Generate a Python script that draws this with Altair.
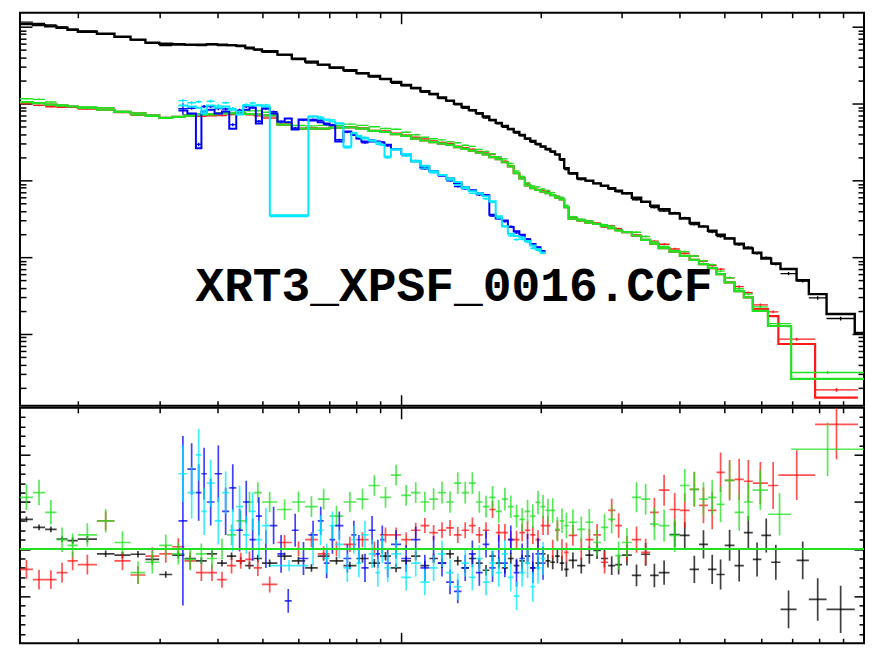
import math
import altair as alt
import pandas as pd

# ---------------- data (energies in keV) ----------------
BLACK_EDGES = [0.15, 0.16, 0.17, 0.18, 0.19, 0.20, 0.22, 0.24, 0.26, 0.28, 0.30, 0.32, 0.34, 0.36, 0.38,
               0.40, 0.42, 0.44, 0.46, 0.48, 0.50, 0.54, 0.58, 0.62, 0.66, 0.70, 0.75, 0.80, 0.85, 0.90,
               0.95, 1.00, 1.05, 1.10, 1.15, 1.20, 1.25, 1.30, 1.35, 1.40, 1.45, 1.50, 1.55, 1.60, 1.65,
               1.70, 1.75, 1.80, 1.85, 1.90, 1.95, 2.00, 2.05, 2.10, 2.15, 2.20, 2.25, 2.30, 2.40, 2.50,
               2.60, 2.70, 2.80, 2.90, 3.00, 3.15, 3.30, 3.45, 3.60, 3.80, 4.00, 4.20, 4.40, 4.60, 4.80,
               5.00, 5.25, 5.50, 5.75, 6.00, 6.30, 6.60, 7.15, 7.60, 8.30, 9.55, 10.0]
BLACK_MODEL = [10.8, 10.5, 10.1, 9.70, 9.14, 8.61, 8.11, 7.41, 6.78, 6.20,
               6.01, 5.90, 5.84, 5.84, 5.90, 5.84, 5.75, 5.66, 5.34, 5.06,
               4.80, 4.33, 3.84, 3.51, 3.21, 2.94, 2.72, 2.49, 2.28, 2.09,
               1.91, 1.74, 1.59, 1.45, 1.33, 1.20, 1.09, 0.99, 0.90, 0.82,
               0.75, 0.678, 0.61, 0.56, 0.51, 0.466, 0.426, 0.389, 0.35, 0.325,
               0.298, 0.276, 0.256, 0.238, 0.218, 0.188, 0.144, 0.124, 0.106, 0.099,
               0.0914, 0.085, 0.079, 0.0733, 0.0680, 0.0593, 0.0526, 0.0467, 0.0420, 0.0368,
               0.0318, 0.0278, 0.0250, 0.0221, 0.0196, 0.0175, 0.0150, 0.0130, 0.0114, 0.0096,
               0.0083, 0.0070, 0.0050, 0.0033, 0.00182, 0.00103]
BLACK_RATIO = [1.063, 1.046, 1.042, 1.021, 1.018, 1.021, 0.990, 0.987, 0.989, 0.978,
               0.946, 0.987, 0.980, 0.975, 0.990, 0.970, 0.985, 0.975, 0.965, 0.980,
               0.970, 0.985, 0.975, 0.960, 0.985, 0.975, 0.965, 0.980, 0.970, 0.985,
               0.960, 0.975, 0.985, 0.965, 0.980, 0.970, 0.990, 0.975, 0.960, 0.980,
               0.970, 0.955, 0.985, 0.970, 0.960, 0.980, 0.965, 0.975, 0.985, 0.960,
               0.970, 0.990, 0.975, 0.972, 0.985, 0.970, 0.957, 0.976, 0.965, 0.987,
               0.997, 0.980, 0.965, 0.967, 0.987, 0.944, 0.989, 0.944, 0.950, 1.031,
               1.029, 0.957, 1.010, 0.957, 0.946, 1.008, 0.965, 1.035, 0.978, 1.029,
               0.972, 0.872, 0.976, 0.893, 0.872, None]
BLACK_ERR = [0.006, 0.006, 0.006, 0.006, 0.007, 0.007, 0.007, 0.007, 0.007, 0.007,
             0.007, 0.007, 0.007, 0.007, 0.007, 0.007, 0.008, 0.008, 0.008, 0.008,
             0.008, 0.008, 0.008, 0.008, 0.008, 0.008, 0.008, 0.009, 0.009, 0.009,
             0.009, 0.009, 0.009, 0.010, 0.010, 0.010, 0.010, 0.010, 0.010, 0.011,
             0.011, 0.011, 0.011, 0.012, 0.012, 0.012, 0.012, 0.013, 0.013, 0.013,
             0.013, 0.014, 0.014, 0.015, 0.015, 0.016, 0.016, 0.017, 0.017, 0.018,
             0.018, 0.019, 0.020, 0.021, 0.022, 0.023, 0.024, 0.025, 0.026, 0.027,
             0.028, 0.029, 0.030, 0.031, 0.032, 0.033, 0.034, 0.035, 0.036, 0.036,
             0.037, 0.040, 0.040, 0.045, 0.050, 0.050]

RG_MODEL = [1.04, 1.01, 0.97, 0.94, 0.914, 0.875, 0.83, 0.78, 0.743, 0.70,
            0.65, 0.67, 0.70, 0.72, 0.73, 0.743, 0.743, 0.743, 0.73, 0.72,
            0.70, 0.53, 0.47, 0.47, 0.47, 0.485, 0.49, 0.47, 0.44, 0.426,
            0.40, 0.38, 0.35, 0.33, 0.315, 0.30, 0.29, 0.27, 0.256, 0.243,
            0.23, 0.218, 0.20, 0.188, 0.172, 0.152, 0.124, 0.106, 0.086, 0.079,
            0.0748, 0.071, 0.068, 0.064, 0.0597, 0.0565, 0.0447, 0.0318, 0.030, 0.0282,
            0.027, 0.0253, 0.0238, 0.0224, 0.0211, 0.019, 0.0168, 0.0150, 0.0131, 0.0118,
            0.0104, 0.0092, 0.0081, 0.0072, 0.0060, 0.0047, 0.0036, 0.0030]

RED_EDGES = BLACK_EDGES[:79] + [6.20, 6.53, 7.84, 9.70]
RED_MODEL = RG_MODEL + [0.0021, 0.00171, 0.00074, 0.000148]
RED_RATIO = [0.957, 0.935, 0.935, 0.950, 0.975, 0.967, 1.060, 0.975, 0.945, 0.985,
             0.990, 1.005, 0.975, 0.950, 0.950, 0.935, 0.965, 0.975, 0.978, 0.960,
             0.925, 1.014, 1.000, 1.020, 0.990, 1.000, 1.010, 1.020, 1.000, 1.030,
             1.030, 1.020, 1.040, 1.050, 1.035, 1.040, 1.045, 1.030, 1.040, 1.050,
             1.030, 1.040, 1.084, 1.035, 1.035, 1.020, 1.020, 1.035, 1.040, 1.030,
             1.020, 1.050, 1.050, 1.000, 1.040, 1.000, 0.993, 1.029, 1.000, 1.020,
             1.030, 0.972, 1.082, 1.050, 1.000, 1.020, 0.993, 1.078, 1.125, 1.084,
             1.082, 1.127, 1.093, 1.082, 1.163, 1.146, 1.148, 1.144, 1.140, 1.135,
             1.157, 1.265]
RED_ERR = [0.020, 0.021, 0.020, 0.021, 0.020, 0.021, 0.020, 0.020, 0.019, 0.019,
           0.019, 0.018, 0.018, 0.018, 0.018, 0.017, 0.017, 0.017, 0.017, 0.017,
           0.017, 0.016, 0.016, 0.016, 0.016, 0.016, 0.016, 0.016, 0.016, 0.016,
           0.016, 0.016, 0.016, 0.016, 0.016, 0.017, 0.017, 0.017, 0.017, 0.017,
           0.017, 0.017, 0.018, 0.018, 0.018, 0.018, 0.019, 0.019, 0.019, 0.019,
           0.020, 0.020, 0.020, 0.020, 0.021, 0.021, 0.021, 0.022, 0.022, 0.022,
           0.023, 0.024, 0.025, 0.026, 0.027, 0.028, 0.029, 0.031, 0.033, 0.035,
           0.036, 0.037, 0.038, 0.040, 0.042, 0.043, 0.044, 0.045, 0.045, 0.050,
           0.053, 0.074]

GREEN_EDGES = BLACK_EDGES[:79] + [6.20, 6.96, 10.0]
GREEN_MODEL = RG_MODEL + [0.0020, 0.00127, 0.00026]
GREEN_RATIO = [1.110, 1.120, 1.078, 1.020, 1.008, 1.030, 1.060, 1.014, 0.950, 0.972,
               1.008, 0.990, 0.978, 0.990, 0.980, 1.000, 1.030, 1.060, 1.100, 1.120,
               1.100, 1.084, 1.100, 1.090, 1.106, 1.070, 1.100, 1.106, 1.135, 1.110,
               1.157, 1.114, 1.120, 1.100, 1.106, 1.120, 1.100, 1.140, 1.120, 1.140,
               1.100, 1.090, 1.110, 1.080, 1.106, 1.090, 1.070, 1.063, 1.080, 1.070,
               1.099, 1.090, 1.082, 1.082, 1.042, 1.060, 1.050, 1.057, 1.042, 1.057,
               1.014, 1.046, 1.063, 0.986, 1.014, 1.110, 1.106, 1.053, 1.050, 1.029,
               1.135, 1.127, 1.106, 1.110, 1.095, 1.146, 1.078, 1.100, 1.125, 1.074,
               1.212]
GREEN_ERR = [0.027, 0.027, 0.026, 0.026, 0.025, 0.025, 0.025, 0.024, 0.024, 0.024,
             0.023, 0.023, 0.023, 0.022, 0.022, 0.022, 0.022, 0.022, 0.022, 0.022,
             0.022, 0.022, 0.022, 0.022, 0.022, 0.022, 0.022, 0.022, 0.022, 0.022,
             0.022, 0.022, 0.022, 0.022, 0.023, 0.023, 0.023, 0.023, 0.023, 0.023,
             0.023, 0.023, 0.024, 0.024, 0.024, 0.024, 0.024, 0.024, 0.025, 0.025,
             0.025, 0.025, 0.025, 0.026, 0.026, 0.026, 0.027, 0.027, 0.027, 0.028,
             0.028, 0.029, 0.030, 0.030, 0.031, 0.032, 0.033, 0.034, 0.034, 0.035,
             0.035, 0.036, 0.036, 0.037, 0.038, 0.038, 0.039, 0.040, 0.042, 0.045,
             0.057]

BLUE_EDGES = [0.33, 0.345, 0.36, 0.37, 0.38, 0.395, 0.41, 0.425, 0.44, 0.455, 0.47, 0.485, 0.50,
              0.52, 0.54, 0.56, 0.58, 0.60, 0.63, 0.66, 0.68, 0.70, 0.72, 0.75, 0.78, 0.80, 0.82,
              0.85, 0.88, 0.90, 0.92, 0.95, 1.00, 1.05, 1.10, 1.15, 1.20, 1.25, 1.30, 1.35, 1.40,
              1.45, 1.50, 1.55, 1.60, 1.65, 1.70, 1.75, 1.80, 1.85, 1.90, 1.95, 2.00, 2.05]
BLUE_MODEL = [0.81, 0.743, 0.262, 0.787, 0.83, 0.743, 0.787, 0.47, 0.787, 0.83,
              0.88, 0.55, 0.86, 0.743, 0.584, 0.64, 0.46, 0.62, 0.60, 0.57,
              0.55, 0.52, 0.321, 0.433, 0.39, 0.35, 0.321, 0.321, 0.321, 0.31,
              0.29, 0.253, 0.22, 0.1765, 0.147, 0.131, 0.117, 0.106, 0.0914, 0.081,
              0.0742, 0.068, 0.064, 0.0357, 0.0318, 0.030, 0.0246, 0.0218, 0.0195, 0.0171,
              0.0148, 0.0135, 0.0120]
BLUE_RATIO = [1.06, 1.17, 1.12, 1.16, 1.10, 1.16, 1.08, 1.13, 1.04, 1.10,
              1.02, 1.07, 1.00, 1.05, 0.99, 0.89, 1.04, 0.98, 1.03, 1.06,
              0.97, 1.02, 1.05, 0.98, 1.03, 1.00, 0.96, 1.04, 0.99, 1.02,
              0.97, 1.01, 0.98, 1.02, 0.96, 1.00, 0.97, 0.93, 0.91, 0.96,
              0.99, 0.95, 1.01, 0.96, 1.00, 0.97, 1.02, 0.95, 0.98, 1.00,
              0.96, 0.99, 0.97]
BLUE_ERR = [0.180, 0.055, 0.060, 0.055, 0.050, 0.060, 0.050, 0.050, 0.045, 0.045,
            0.045, 0.040, 0.040, 0.040, 0.040, 0.025, 0.035, 0.035, 0.030, 0.030,
            0.032, 0.030, 0.030, 0.030, 0.030, 0.030, 0.030, 0.030, 0.030, 0.030,
            0.030, 0.030, 0.028, 0.028, 0.028, 0.028, 0.028, 0.026, 0.025, 0.028,
            0.028, 0.028, 0.028, 0.030, 0.030, 0.030, 0.030, 0.030, 0.032, 0.032,
            0.032, 0.033, 0.035]

CYAN_EDGES = [0.33, 0.345, 0.36, 0.37, 0.38, 0.395, 0.41, 0.425, 0.44, 0.455, 0.47, 0.485, 0.50,
              0.52, 0.63, 0.66, 0.68, 0.70, 0.72, 0.75, 0.78, 0.80, 0.82, 0.85, 0.88, 0.90, 0.92,
              0.95, 1.00, 1.05, 1.10, 1.15, 1.20, 1.25, 1.30, 1.35, 1.40, 1.45, 1.50, 1.55, 1.60,
              1.65, 1.70, 1.75, 1.80, 1.85, 1.90, 1.95, 2.00, 2.05]
CYAN_MODEL = [0.94, 0.914, 0.88, 0.743, 0.94, 0.88, 0.914, 0.83, 0.72, 0.94,
              0.94, 0.94, 0.914, 0.0351, 0.678, 0.64, 0.62, 0.584, 0.55, 0.276,
              0.41, 0.38, 0.35, 0.33, 0.31, 0.29, 0.205, 0.253, 0.22, 0.18,
              0.155, 0.131, 0.117, 0.106, 0.095, 0.081, 0.072, 0.068, 0.062, 0.0534,
              0.0341, 0.0253, 0.0201, 0.0188, 0.018, 0.0162, 0.0142, 0.0128, 0.0115]
CYAN_RATIO = [1.16, 1.12, 1.20, 1.08, 1.14, 1.06, 1.12, 1.04, 1.09, 1.03,
              1.08, 1.02, 1.05, 0.965, 1.00, 1.04, 0.98, 1.05, 1.01, 0.96,
              1.02, 0.97, 1.03, 0.99, 0.95, 1.00, 0.96, 0.99, 0.94, 0.97,
              0.93, 0.96, 0.99, 0.95, 0.92, 0.97, 0.94, 0.98, 0.93, 0.97,
              0.95, 0.99, 0.94, 0.90, 0.95, 0.97, 0.92, 0.96, 0.98]
CYAN_ERR = [0.060, 0.055, 0.055, 0.050, 0.050, 0.050, 0.045, 0.045, 0.045, 0.040,
            0.040, 0.040, 0.038, 0.012, 0.035, 0.032, 0.032, 0.030, 0.030, 0.030,
            0.030, 0.030, 0.030, 0.030, 0.030, 0.030, 0.030, 0.030, 0.028, 0.028,
            0.028, 0.028, 0.028, 0.028, 0.028, 0.028, 0.028, 0.028, 0.028, 0.028,
            0.030, 0.030, 0.030, 0.030, 0.030, 0.032, 0.032, 0.033, 0.035]

LABEL_TEXT = ["XRT3_XPSF_0016.CCF"]
LABEL_E = [1.30]
LABEL_Y = [0.00268]

X_TICKS = [0.2, 0.3, 0.4, 0.5, 0.6, 0.7, 0.8, 0.9, 1.0, 2.0, 3.0, 4.0, 5.0, 6.0, 7.0, 8.0, 9.0]
YT_TICKS = [2e-4, 3e-4, 4e-4, 5e-4, 6e-4, 7e-4, 8e-4, 9e-4, 1e-3,
            2e-3, 3e-3, 4e-3, 5e-3, 6e-3, 7e-3, 8e-3, 9e-3, 0.01,
            0.02, 0.03, 0.04, 0.05, 0.06, 0.07, 0.08, 0.09, 0.1,
            0.2, 0.3, 0.4, 0.5, 0.6, 0.7, 0.8, 0.9, 1.0,
            2.0, 3.0, 4.0, 5.0, 6.0, 7.0, 8.0, 9.0, 10.0]
YB_TICKS = [0.82, 0.84, 0.86, 0.88, 0.90, 0.92, 0.94, 0.96, 0.98, 1.00, 1.02, 1.04,
            1.06, 1.08, 1.10, 1.12, 1.14, 1.16, 1.18, 1.20, 1.22, 1.24, 1.26, 1.28]
UNITY = [1.0]

# ---------------- layout ----------------
W, HT, HB = 846, 394, 236
X_SCALE = alt.Scale(type="log", domain=[0.15, 10.0], nice=False)
YT_SCALE = alt.Scale(type="log", domain=[1.16e-4, 15.2], nice=False)
YB_SCALE = alt.Scale(domain=[0.8, 1.3], nice=False, zero=False)

LOG_MAJOR = "abs(log(datum.value)/LN10 - round(log(datum.value)/LN10)) < 0.001"
LIN_MAJOR = "abs(datum.value*10 - round(datum.value*10)) < 0.001"


def edge_axis(orient, offset, values, test, major, minor):
    return alt.Axis(orient=orient, offset=offset, values=values, labels=False, domain=False,
                    grid=False, title="", ticks=True, tickColor="black", tickWidth=1.5,
                    tickSize={"condition": {"test": test, "value": major}, "value": minor})


def step_frame(edges, model):
    return pd.DataFrame({"x": list(edges), "y": list(model) + [model[-1]]})


def cross_frame(edges, model, ratio, err):
    rows = []
    for i, m in enumerate(model):
        r = ratio[i]
        if r is None:
            continue
        lo, hi, e = edges[i], edges[i + 1], err[i]
        rows.append(dict(lo=lo, hi=hi, c=math.sqrt(lo * hi), r=r, rlo=r - e, rhi=r + e,
                         d=m * r, dlo=m * (r - e), dhi=m * (r + e)))
    return pd.DataFrame(rows)


SERIES = [
    ("#000000", 2.4, BLACK_EDGES, BLACK_MODEL, BLACK_RATIO, BLACK_ERR),
    ("#ff1a1a", 2.2, RED_EDGES, RED_MODEL, RED_RATIO, RED_ERR),
    ("#22e022", 2.2, GREEN_EDGES, GREEN_MODEL, GREEN_RATIO, GREEN_ERR),
    ("#0000ff", 2.0, BLUE_EDGES, BLUE_MODEL, BLUE_RATIO, BLUE_ERR),
    ("#00e8ff", 2.0, CYAN_EDGES, CYAN_MODEL, CYAN_RATIO, CYAN_ERR),
]

top_layers = []
bot_layers = []
for k, (color, lw, edges, model, ratio, err) in enumerate(SERIES):
    sf = step_frame(edges, model)
    cf = cross_frame(edges, model, ratio, err)
    if k == 0:
        tx = edge_axis("bottom", -HT, X_TICKS, LOG_MAJOR, 11, 5)
        ty = edge_axis("right", -W, YT_TICKS, LOG_MAJOR, 12, 6)
        bx = edge_axis("bottom", -HB, X_TICKS, LOG_MAJOR, 11, 5)
        by = edge_axis("right", -W, YB_TICKS, LIN_MAJOR, 10, 5)
    elif k == 1:
        tx = edge_axis("top", -HT, X_TICKS, LOG_MAJOR, 11, 5)
        ty = edge_axis("left", -W, YT_TICKS, LOG_MAJOR, 12, 6)
        bx = edge_axis("top", -HB, X_TICKS, LOG_MAJOR, 11, 5)
        by = edge_axis("left", -W, YB_TICKS, LIN_MAJOR, 10, 5)
    else:
        tx = ty = bx = by = None

    top_layers.append(
        alt.Chart(sf).mark_line(interpolate="step-after", color=color, strokeWidth=lw, clip=True)
        .encode(x=alt.X("x:Q", scale=X_SCALE, axis=tx), y=alt.Y("y:Q", scale=YT_SCALE, axis=ty))
    )
    top_layers.append(
        alt.Chart(cf).mark_rule(color=color, strokeWidth=1.4, clip=True)
        .encode(x=alt.X("lo:Q", scale=X_SCALE, axis=None), x2=alt.X2("hi"),
                y=alt.Y("d:Q", scale=YT_SCALE, axis=None))
    )
    top_layers.append(
        alt.Chart(cf).mark_rule(color=color, strokeWidth=1.4, clip=True)
        .encode(x=alt.X("c:Q", scale=X_SCALE, axis=None),
                y=alt.Y("dlo:Q", scale=YT_SCALE, axis=None), y2=alt.Y2("dhi"))
    )
    bot_layers.append(
        alt.Chart(cf).mark_rule(color=color, strokeWidth=1.7, opacity=0.75, clip=True)
        .encode(x=alt.X("lo:Q", scale=X_SCALE, axis=bx), x2=alt.X2("hi"),
                y=alt.Y("r:Q", scale=YB_SCALE, axis=by))
    )
    bot_layers.append(
        alt.Chart(cf).mark_rule(color=color, strokeWidth=1.7, opacity=0.75, clip=True)
        .encode(x=alt.X("c:Q", scale=X_SCALE, axis=None),
                y=alt.Y("rlo:Q", scale=YB_SCALE, axis=None), y2=alt.Y2("rhi"))
    )

label_df = pd.DataFrame({"e": LABEL_E, "v": LABEL_Y, "t": LABEL_TEXT})
top_layers.append(
    alt.Chart(label_df).mark_text(font="Liberation Mono", fontSize=48, fontWeight="bold",
                                  align="center", baseline="alphabetic", color="black")
    .encode(x=alt.X("e:Q", scale=X_SCALE, axis=None), y=alt.Y("v:Q", scale=YT_SCALE, axis=None),
            text="t:N")
)

unity_df = pd.DataFrame({"u": UNITY})
bot_layers.append(
    alt.Chart(unity_df).mark_rule(color="#22e022", strokeWidth=2)
    .encode(y=alt.Y("u:Q", scale=YB_SCALE, axis=None))
)

top = alt.layer(*top_layers).resolve_axis(x="independent", y="independent").properties(width=W, height=HT)
bottom = alt.layer(*bot_layers).resolve_axis(x="independent", y="independent").properties(width=W, height=HB)

chart = (
    alt.vconcat(top, bottom, spacing=-2)
    .properties(padding={"left": 10, "top": 2, "right": 0, "bottom": 0})
    .configure_view(stroke="black", strokeWidth=2)
)

chart.save("out.html", embed_options={"renderer": "svg", "actions": False})
